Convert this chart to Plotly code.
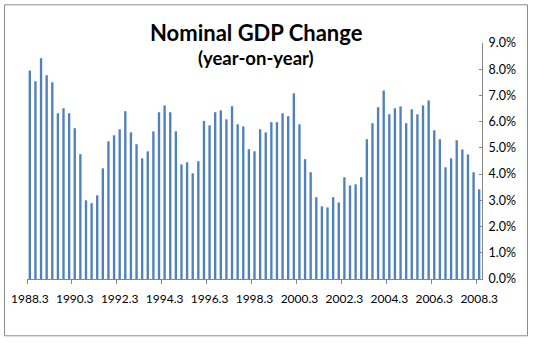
import plotly.graph_objects as go

# Quarterly labels 1988.3 .. 2008.3
quarters = []
y, q = 1988, 3
for _ in range(81):
    quarters.append(f"{y}.{q}")
    q += 1
    if q > 4:
        q = 1
        y += 1

gdp_change = [
    7.95, 7.54, 8.42, 7.77, 7.50, 6.32, 6.51, 6.32, 5.75, 4.76,
    3.00, 2.89, 3.19, 4.22, 5.25, 5.48, 5.71, 6.40, 5.59, 5.14,
    4.60, 4.87, 5.63, 6.36, 6.62, 6.36, 5.63, 4.37, 4.45, 4.03,
    4.49, 6.03, 5.86, 6.36, 6.43, 6.09, 6.59, 5.90, 5.82, 4.95,
    4.87, 5.71, 5.59, 5.98, 5.98, 6.32, 6.21, 7.08, 5.90, 4.57,
    4.07, 3.12, 2.77, 2.73, 3.12, 2.92, 3.88, 3.57, 3.61, 3.88,
    5.33, 5.94, 6.55, 7.19, 6.28, 6.51, 6.58, 5.94, 6.47, 6.28,
    6.62, 6.81, 5.67, 5.33, 4.26, 4.60, 5.29, 4.94, 4.75, 4.07,
    3.42,
]
values = [v / 100 for v in gdp_change]

W, H = 533, 343
L, R, T, B = 27, 482, 42.7, 278.7
pw, ph = R - L, B - T

def px_x(p):
    return (p - L) / pw

def px_y(p):
    return (B - p) / ph

fig = go.Figure(go.Bar(x=quarters, y=values, marker_color="#4F81BD",
                       marker_line_width=0))

axis_col = "#868686"
fig.update_layout(
    width=W, height=H,
    margin=dict(l=L, r=W - R, t=T, b=H - B, pad=0),
    paper_bgcolor="white", plot_bgcolor="white",
    bargap=0.58,
    showlegend=False,
    font=dict(family="Lato", color="black", size=13),
    xaxis=dict(type="category", range=[-0.5, 80.5], tickmode="linear",
               tick0=0, dtick=8, tickson="boundaries",
               ticks="outside", ticklen=4, tickcolor=axis_col,
               showline=True, linecolor=axis_col, linewidth=1,
               showgrid=False, tickangle=0, ticklabelstandoff=9,
               tickfont=dict(size=12, family="Lato")),
    yaxis=dict(side="right", range=[0, 0.09], dtick=0.01, tickformat=".1%",
               ticks="inside", ticklen=3, tickcolor=axis_col,
               showline=True, linecolor=axis_col, linewidth=1,
               showgrid=False, zeroline=False, ticklabelstandoff=3,
               tickfont=dict(size=12.5, family="Lato")),
    shapes=[dict(type="rect", xref="paper", yref="paper",
                 x0=px_x(4.5), x1=px_x(527.5), y0=px_y(335.5), y1=px_y(4.5),
                 line=dict(color="#8C8C8C", width=1), layer="below")],
    annotations=[
        dict(text="<b>Nominal GDP Change</b>", xref="paper", yref="paper",
             x=px_x(256.5), y=px_y(32), xanchor="center", yanchor="middle",
             showarrow=False, font=dict(size=22, family="Lato", color="black")),
        dict(text="<b>(year-on-year)</b>", xref="paper", yref="paper",
             x=px_x(256), y=px_y(58), xanchor="center", yanchor="middle",
             showarrow=False, font=dict(size=18.5, family="Lato", color="black")),
    ],
)

fig.write_html("out.html")
